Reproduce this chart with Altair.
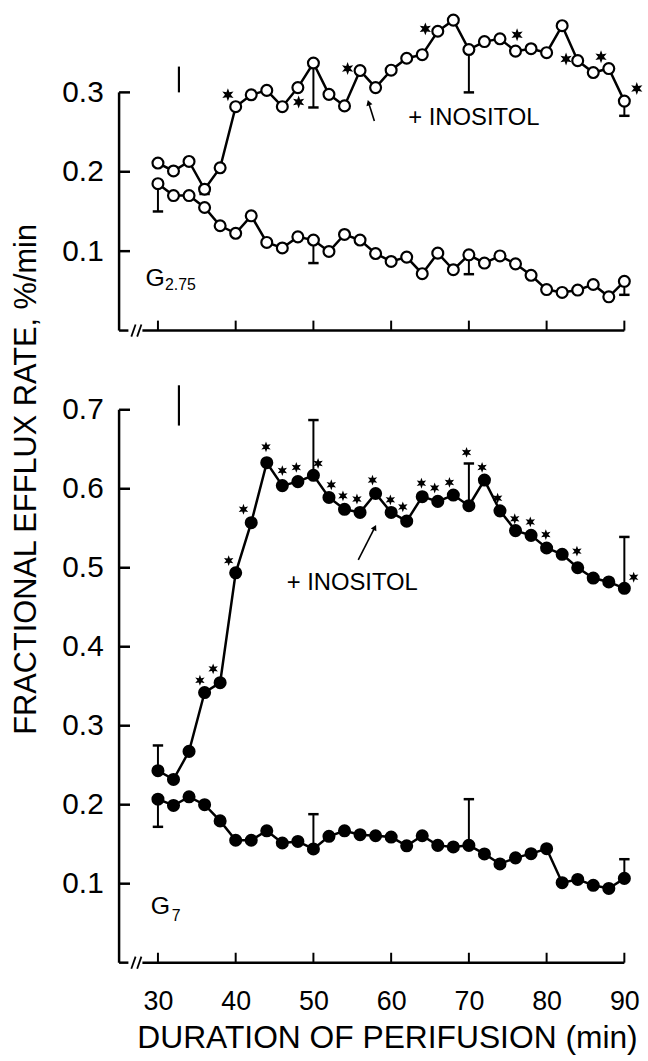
import altair as alt
import pandas as pd

FONT = "Liberation Sans"

# ---------------- data ----------------
times = [30, 32, 34, 36, 38, 40, 42, 44, 46, 48, 50, 52, 54, 56, 58, 60,
         62, 64, 66, 68, 70, 72, 74, 76, 78, 80, 82, 84, 86, 88, 90]

# upper panel (G2.75), open circles
top_ino = [0.211, 0.201, 0.213, 0.178, 0.205, 0.282, 0.297, 0.3025, 0.282, 0.306,
           0.337, 0.2975, 0.283, 0.3275, 0.306, 0.328, 0.343, 0.3475, 0.377, 0.391,
           0.354, 0.364, 0.3675, 0.352, 0.355, 0.350, 0.384, 0.340, 0.325, 0.330, 0.289]
top_ctl = [0.185, 0.170, 0.170, 0.155, 0.132, 0.1225, 0.1445, 0.111, 0.104, 0.118,
           0.114, 0.0996, 0.121, 0.114, 0.097, 0.087, 0.0925, 0.0716, 0.0975, 0.0766,
           0.0954, 0.085, 0.094, 0.084, 0.0696, 0.0516, 0.048, 0.051, 0.058, 0.0425, 0.062]
top_ino_err_t = [36, 50, 70, 90]
top_ino_err_end = [0.172, 0.281, 0.300, 0.2705]
top_ctl_err_t = [30, 50, 70, 90]
top_ctl_err_end = [0.150, 0.085, 0.071, 0.045]
top_star_t = [39.0, 48.1, 54.4, 64.4, 76.2, 82.5, 87.0, 91.6]
top_star_v = [0.297, 0.288, 0.330, 0.380, 0.3725, 0.342, 0.345, 0.305]

# lower panel (G7), filled circles
bot_ino = [0.243, 0.232, 0.2675, 0.342, 0.3545, 0.4936, 0.557, 0.633, 0.604, 0.609,
           0.617, 0.589, 0.574, 0.570, 0.594, 0.570, 0.559, 0.590, 0.584, 0.592,
           0.5786, 0.611, 0.572, 0.547, 0.541, 0.525, 0.517, 0.500, 0.487, 0.482, 0.474]
bot_ctl = [0.207, 0.199, 0.210, 0.200, 0.1795, 0.155, 0.155, 0.167, 0.1515, 0.1535,
           0.144, 0.160, 0.167, 0.162, 0.1607, 0.159, 0.148, 0.1607, 0.1485, 0.1465,
           0.1485, 0.1377, 0.125, 0.1327, 0.138, 0.1443, 0.1013, 0.1054, 0.098, 0.094, 0.1067]
bot_ino_err_t = [30, 50, 70, 90]
bot_ino_err_end = [0.275, 0.687, 0.632, 0.539]
bot_ctl_err_t = [30, 50, 70, 90]
bot_ctl_err_end = [0.172, 0.188, 0.207, 0.131]
bot_star_t = [35.4, 37.1, 39.1, 41.0, 43.9, 46.0, 47.8, 50.6, 52.3, 53.8, 55.6, 57.6,
              59.9, 61.5, 63.9, 65.6, 67.5, 69.7, 71.7, 73.7, 75.9, 77.9, 79.9, 83.9, 91.2]
bot_star_v = [0.3575, 0.372, 0.509, 0.574, 0.653, 0.623, 0.627, 0.632, 0.605, 0.591,
              0.587, 0.611, 0.586, 0.577, 0.607, 0.601, 0.608, 0.646, 0.627, 0.588,
              0.562, 0.558, 0.542, 0.521, 0.488]

x_tick_values = [30, 40, 50, 60, 70, 80, 90]
top_y_ticks = [0.1, 0.2, 0.3]
bot_y_ticks = [0.1, 0.2, 0.3, 0.4, 0.5, 0.6, 0.7]

X_TITLE = "DURATION OF PERIFUSION (min)"
Y_TITLE = "FRACTIONAL EFFLUX RATE, %/min"
ANNOT = "+ INOSITOL"

STAR = ("M0,-1L0.225,-0.39L0.866,-0.5L0.45,0L0.866,0.5L0.225,0.39L0,1L-0.225,0.39"
        "L-0.866,0.5L-0.45,0L-0.866,-0.5L-0.225,-0.39Z")
CAP = "M-1,0L1,0"
SLASH = "M-0.35,1L0.35,-1"

W = 517


def make_panel(ino, ctl, ino_et, ino_ee, ctl_et, ctl_ee, star_t, star_v, star_size,
               ymax, yaxis_top, yticks, H, fill, g_main, g_sub, g_pos, sub_pos,
               annot_pos, arrow, marker, show_x):
    xs = alt.Scale(domain=[25, 91], nice=False, zero=False)
    ys = alt.Scale(domain=[0, ymax], nice=False, zero=False)
    yaxis = alt.Axis(values=yticks, format=".1f", domain=False, ticks=False, grid=False,
                     labelPadding=16, labelFontSize=30, labelFont=FONT, labelColor="black",
                     title=None)
    if show_x:
        xaxis = alt.Axis(values=x_tick_values, domain=False, ticks=False, grid=False,
                         labelPadding=26, labelFontSize=27, labelFont=FONT,
                         labelColor="black", title=X_TITLE, titleFontSize=32,
                         titleFont=FONT, titleFontWeight="normal", titleColor="black",
                         titlePadding=8, titleX=270)
    else:
        xaxis = None

    def xq(f="t"):
        return alt.X(f"{f}:Q", scale=xs, axis=xaxis)

    def yq(f="v"):
        return alt.Y(f"{f}:Q", scale=ys, axis=yaxis)

    n = len(times)
    lines_df = pd.DataFrame({"t": times * 2, "v": ino + ctl,
                             "s": ["ino"] * n + ["ctl"] * n})
    ino_map = dict(zip(times, ino))
    ctl_map = dict(zip(times, ctl))
    err_df = pd.DataFrame({
        "t": ino_et + ctl_et,
        "v": [ino_map[t] for t in ino_et] + [ctl_map[t] for t in ctl_et],
        "e": ino_ee + ctl_ee,
    })
    star_df = pd.DataFrame({"t": star_t, "v": star_v})

    layers = []
    # axis frame drawn as marks (ticks point inward like the original)
    layers.append(alt.Chart(pd.DataFrame({"v0": [0], "v1": [yaxis_top]})).mark_rule(
        color="black", strokeWidth=2.5).encode(x=alt.value(0), y=yq("v0"), y2="v1:Q"))
    layers.append(alt.Chart(pd.DataFrame({"v": yticks})).mark_rule(
        color="black", strokeWidth=2.5).encode(x=alt.value(0), x2=alt.value(11), y=yq()))
    layers.append(alt.Chart(pd.DataFrame({"a": [25, 28.0], "b": [26.2, 90]})).mark_rule(
        color="black", strokeWidth=2.5).encode(x=xq("a"), x2="b:Q", y=alt.value(H)))
    layers.append(alt.Chart(pd.DataFrame({"t": x_tick_values})).mark_rule(
        color="black", strokeWidth=2).encode(x=xq(), y=alt.value(H), y2=alt.value(H - 10)))
    layers.append(alt.Chart(pd.DataFrame({"t": [26.85, 27.6]})).mark_point(
        shape=SLASH, size=150, color="black", strokeWidth=1.8, filled=False, opacity=1
    ).encode(x=xq(), y=alt.value(H)))

    # data
    layers.append(alt.Chart(lines_df).mark_line(color="black", strokeWidth=2.5).encode(
        x=xq(), y=yq(), detail="s:N"))
    layers.append(alt.Chart(err_df).mark_rule(color="black", strokeWidth=2).encode(
        x=xq(), y=yq(), y2="e:Q"))
    layers.append(alt.Chart(err_df).mark_point(
        shape=CAP, size=110, color="black", strokeWidth=2.5, filled=False, opacity=1
    ).encode(x=xq(), y=yq("e")))
    layers.append(alt.Chart(lines_df).mark_point(
        shape="circle", size=120, filled=True, fill=fill, stroke="black",
        strokeWidth=2.2, opacity=1).encode(x=xq(), y=yq()))
    layers.append(alt.Chart(star_df).mark_point(
        shape=STAR, size=star_size, filled=True, color="black", opacity=1).encode(
        x=xq(), y=yq()))

    # labels
    layers.append(alt.Chart(pd.DataFrame({"t": [g_pos[0]], "v": [g_pos[1]], "s": [g_main]}))
                  .mark_text(align="left", baseline="alphabetic", fontSize=25, font=FONT,
                             color="black").encode(x=xq(), y=yq(), text="s:N"))
    layers.append(alt.Chart(pd.DataFrame({"t": [sub_pos[0]], "v": [sub_pos[1]], "s": [g_sub]}))
                  .mark_text(align="left", baseline="alphabetic", fontSize=16, font=FONT,
                             color="black").encode(x=xq(), y=yq(), text="s:N"))
    layers.append(alt.Chart(pd.DataFrame({"t": [annot_pos[0]], "v": [annot_pos[1]], "s": [ANNOT]}))
                  .mark_text(align="left", baseline="alphabetic", fontSize=24, font=FONT,
                             color="black").encode(x=xq(), y=yq(), text="s:N"))
    # arrow
    arr_df = pd.DataFrame({"t0": [arrow[0]], "v0": [arrow[1]], "t": [arrow[2]], "v": [arrow[3]]})
    layers.append(alt.Chart(arr_df).mark_rule(color="black", strokeWidth=1.6).encode(
        x=xq("t0"), x2="t:Q", y=yq("v0"), y2="v:Q"))
    layers.append(alt.Chart(arr_df).mark_point(
        shape="triangle-up", size=40, filled=True, color="black", opacity=1,
        angle=arrow[4]).encode(x=xq(), y=yq()))
    # vertical marker near the start
    layers.append(alt.Chart(pd.DataFrame({"t": [marker[0]], "v0": [marker[1]], "v1": [marker[2]]}))
                  .mark_rule(color="black", strokeWidth=2.2).encode(
        x=xq(), y=yq("v0"), y2="v1:Q"))

    return alt.layer(*layers).properties(width=W, height=H)


top = make_panel(top_ino, top_ctl, top_ino_err_t, top_ino_err_end, top_ctl_err_t,
                 top_ctl_err_end, top_star_t, top_star_v, 170,
                 ymax=0.41, yaxis_top=0.3, yticks=top_y_ticks, H=328, fill="white",
                 g_main="G", g_sub="2.75", g_pos=(28.4, 0.056), sub_pos=(30.9, 0.0516),
                 annot_pos=(62.2, 0.259), arrow=(57.84, 0.264, 57.1, 0.287, 342),
                 marker=(32.7, 0.30, 0.3325), show_x=False)

bot = make_panel(bot_ino, bot_ctl, bot_ino_err_t, bot_ino_err_end, bot_ctl_err_t,
                 bot_ctl_err_end, bot_star_t, bot_star_v, 120,
                 ymax=0.74, yaxis_top=0.7, yticks=bot_y_ticks, H=589, fill="black",
                 g_main="G", g_sub="7", g_pos=(29.07, 0.0614), sub_pos=(31.78, 0.053),
                 annot_pos=(46.56, 0.472), arrow=(55.77, 0.510, 57.9, 0.551, 27),
                 marker=(32.7, 0.68, 0.731), show_x=True)

chart = alt.vconcat(top, bot, spacing=38).properties(
    padding={"left": 11, "top": 1, "right": 5, "bottom": 5},
    title=alt.TitleParams(text=Y_TITLE, orient="left", anchor="middle", fontSize=31,
                          font=FONT, fontWeight="normal", color="black", offset=19, dx=50)
).configure_view(stroke=None)

chart.save("out.html", embed_options={"renderer": "svg", "actions": False})
